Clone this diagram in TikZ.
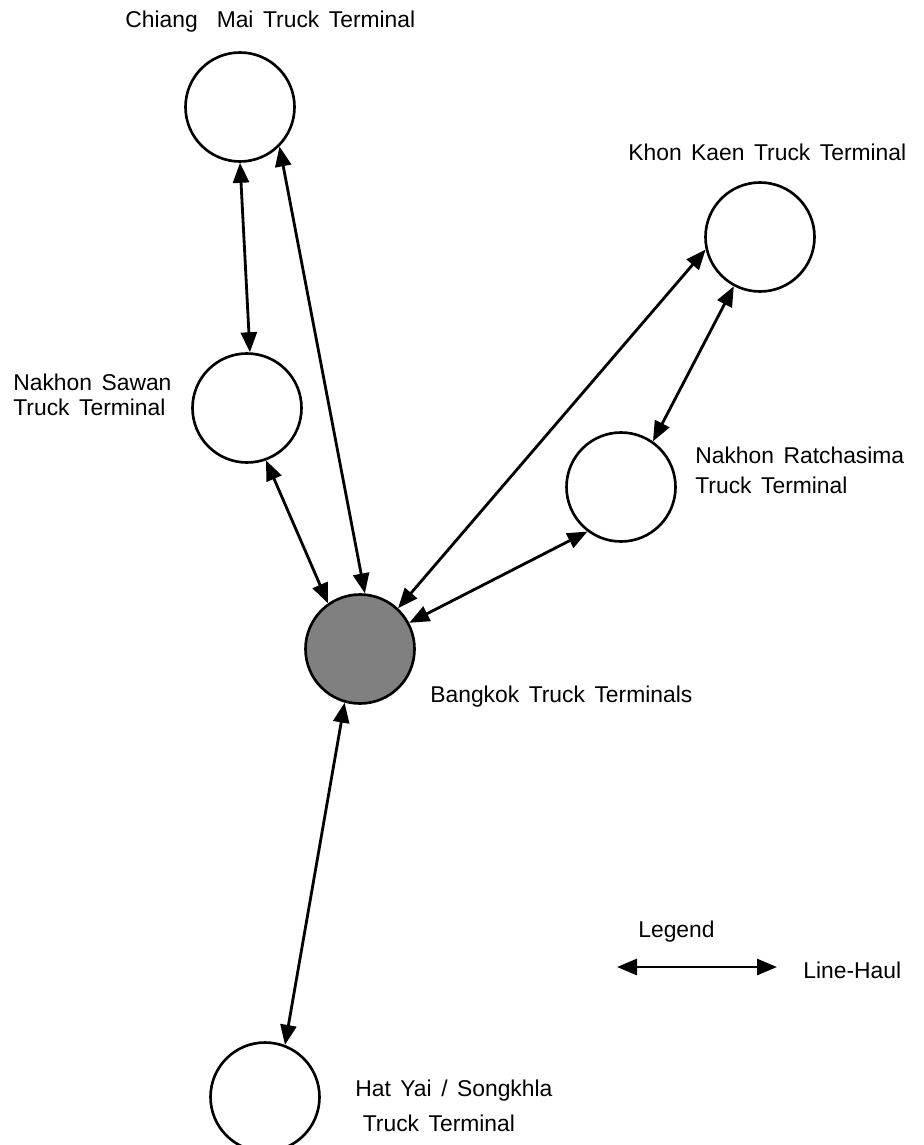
\documentclass[tikz,border=0pt]{standalone}
\usepackage{fontspec}
\setmainfont{Liberation Sans}[WordSpace=1.5]
\usetikzlibrary{arrows.meta}

\begin{document}
\begin{tikzpicture}[
        terminal/.style={draw, circle, line width=1.5pt, minimum size=2.18cm, inner sep=0pt},
        hub/.style={terminal, fill=black!50},
        haul/.style={{Triangle[length=4mm,width=3.2mm]}-{Triangle[length=4mm,width=3.2mm]}, line width=1.6pt},
        place/.style={anchor=west, align=left, inner sep=0pt, font=\fontsize{13}{14.2}\selectfont}
    ]
        \useasboundingbox (0,0) rectangle (18.46,-22.9);

        % terminals
        \node[terminal] (chiangmai) at (4.80,-2.14) {};
        \node[terminal] (khonkaen) at (15.20,-4.74) {};
        \node[terminal] (nakhonsawan) at (4.94,-8.16) {};
        \node[terminal] (ratchasima) at (12.42,-9.74) {};
        \node[hub] (bangkok) at (7.20,-12.98) {};
        \node[terminal] (hatyai) at (5.30,-21.94) {};

        \node[place] (chiangmailbl) at (2.50,-0.44) {Chiang\ \ Mai Truck Terminal};
        \node[place] (khonkaenlbl) at (12.56,-3.04) {Khon Kaen Truck Terminal};
        \node[place] (nakhonsawanlbl) at (0.26,-7.90) {Nakhon Sawan\\Truck\ Terminal};
        \node[place] (ratchasimalbl) at (13.90,-9.40) {Nakhon Ratchasima\\[2.8pt]Truck\ Terminal};
        \node[place] (bangkoklbl) at (8.60,-13.94) {Bangkok Truck Terminals};
        \node[place] (hatyailbl) at (7.10,-22.11) {Hat Yai / Songkhla\\[5.7pt]\hspace{0.15cm}Truck\ Terminal};

        % line-haul links
        \draw[haul] (chiangmai.-90) -- (nakhonsawan.87);
        \draw[haul] (chiangmai.-45) -- (bangkok.85);
        \draw[haul] (nakhonsawan.-70) -- (bangkok.125);
        \draw[haul] (khonkaen.193) -- (bangkok.47);
        \draw[haul] (khonkaen.-118) -- (ratchasima.55);
        \draw[haul] (ratchasima.233) -- (bangkok.28);
        \draw[haul] (bangkok.-106) -- (hatyai.69);

        % legend
        \node[place] (legendlbl) at (12.76,-18.64) {Legend};
        \coordinate (keyl) at (12.34,-19.34);
        \coordinate (keyr) at (15.54,-19.34);
        \draw[haul] (keyl) -- (keyr);
        \node[place] (keylbl) at (16.06,-19.40) {Line-Haul};
\end{tikzpicture}
\end{document}
